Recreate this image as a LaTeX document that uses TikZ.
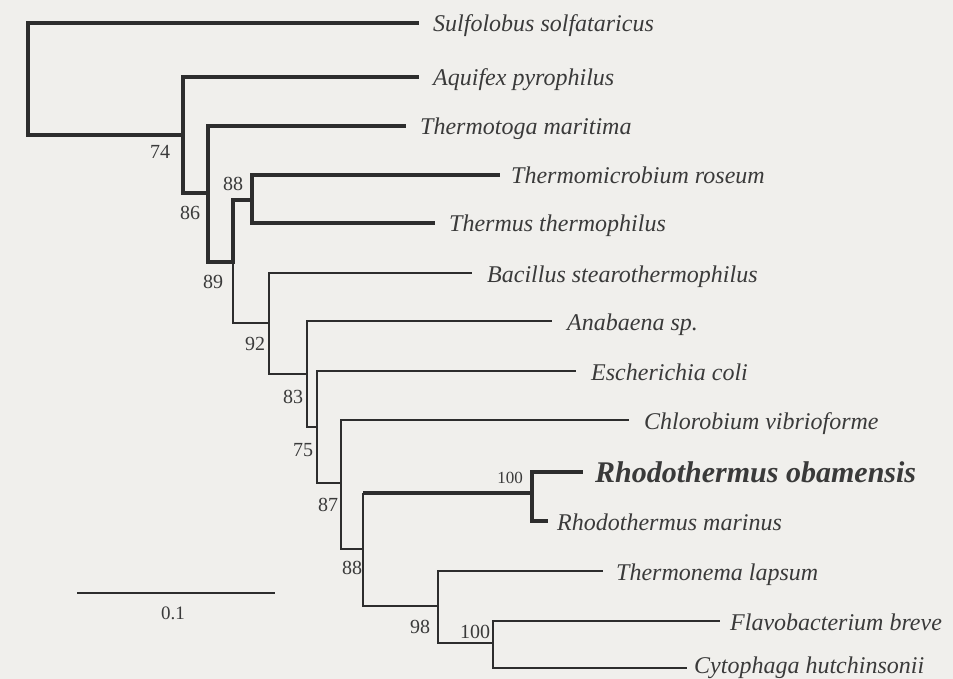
\documentclass[tikz,border=0pt]{standalone}
\usepackage{fontspec}
\setmainfont{Liberation Serif}
\definecolor{paper}{RGB}{240,239,236}
\definecolor{ink}{RGB}{45,45,45}
\definecolor{txt}{RGB}{58,58,58}
\begin{document}
\begin{tikzpicture}[x=1pt,y=-1pt,
  thk/.style={draw=ink,line width=3.8pt},
  thn/.style={draw=ink,line width=1.6pt},
  taxon/.style={anchor=west,inner ysep=0pt,text=txt,font=\fontsize{24}{28}\selectfont\itshape,text height=24pt,text depth=6pt},
  boot/.style={inner sep=0pt,text=txt,font=\fontsize{20}{24}\selectfont}]
\fill[paper] (0,0) rectangle (953,679);
\useasboundingbox (0,0) rectangle (953,679);

% internal nodes
\coordinate (root) at (28,79);
\coordinate (n74)  at (183,135);
\coordinate (n86)  at (208,193);
\coordinate (n89)  at (233,262);
\coordinate (n88a) at (252,200);
\coordinate (n92)  at (269,323);
\coordinate (n83)  at (307,374);
\coordinate (n75)  at (317,427);
\coordinate (n87)  at (341,483);
\coordinate (n88b) at (363,549);
\coordinate (nrh)  at (532,493);
\coordinate (n98)  at (438,606);
\coordinate (n100) at (493,643);

% taxa
\node[taxon,inner xsep=14pt] (sulf)  at (419,23)  {Sulfolobus solfataricus};
\node[taxon,inner xsep=14pt] (aqui)  at (419,77)  {Aquifex pyrophilus};
\node[taxon,inner xsep=14pt] (tmar)  at (406,126) {Thermotoga maritima};
\node[taxon,inner xsep=11pt] (trose) at (500,175) {Thermomicrobium roseum};
\node[taxon,inner xsep=14pt] (tthe)  at (435,223) {Thermus thermophilus};
\node[taxon,inner xsep=15pt] (bac)   at (472,273) {Bacillus stearothermophilus};
\node[taxon,inner xsep=15pt] (ana)   at (552,321) {Anabaena sp.};
\node[taxon,inner xsep=15pt] (eco)   at (576,371) {Escherichia coli};
\node[taxon,inner xsep=15pt] (chl)   at (629,420) {Chlorobium vibrioforme};
\node[taxon,inner xsep=12pt,font=\fontsize{30}{34}\selectfont\bfseries\itshape,text height=26pt,text depth=6pt] (robam) at (583,472) {Rhodothermus obamensis};
\node[taxon,inner xsep=9pt]  (rmar)  at (548,521) {Rhodothermus marinus};
\node[taxon,inner xsep=13pt] (tlap)  at (603,571) {Thermonema lapsum};
\node[taxon,inner xsep=10pt] (flav)  at (720,621) {Flavobacterium breve};
\node[taxon,inner xsep=7pt,text height=22pt,text depth=12pt] (cyto) at (687,668) {Cytophaga hutchinsonii};

% branches
\draw[thk] (root) |- (sulf.west);
\draw[thk] (root) |- (n74) |- (aqui.west);
\draw[thk] (n74) |- (n86) |- (tmar.west);
\draw[thk] (n86) |- (n89) |- (n88a) |- (trose.west);
\draw[thk] (n88a) |- (tthe.west);
\draw[thn] (n89) |- (n92) |- (bac.west);
\draw[thn] (n92) |- (n83) |- (ana.west);
\draw[thn] (n83) |- (n75) |- (eco.west);
\draw[thn] (n75) |- (n87) |- (chl.west);
\draw[thn] (n87) |- (n88b) |- (n98) |- (tlap.west);
\draw[thn] (n88b) -- (n88b |- nrh);
\draw[thk] (n88b |- nrh) -- (nrh) |- (robam.west);
\draw[thk] (nrh) |- (rmar.west);
\draw[thn] (n98) |- (n100) |- (flav.west);
\draw[thn] (n100) |- (cyto.west);

% bootstrap values
\node[boot] (b74)   at (160,152) {74};
\node[boot] (b86)   at (190,213) {86};
\node[boot] (b88a)  at (233,184) {88};
\node[boot] (b89)   at (213,282) {89};
\node[boot] (b92)   at (255,344) {92};
\node[boot] (b83)   at (293,397) {83};
\node[boot] (b75)   at (303,450) {75};
\node[boot] (b87)   at (328,505) {87};
\node[boot] (b88b)  at (352,568) {88};
\node[boot,font=\fontsize{17}{20}\selectfont] (b100a) at (510,478) {100};
\node[boot] (b98)   at (420,627) {98};
\node[boot] (b100b) at (475,632) {100};

% scale bar
\coordinate (sb1) at (77,593);
\coordinate (sb2) at (275,593);
\draw[thn] (sb1) -- (sb2);
\node[boot,font=\fontsize{19}{22}\selectfont] (sblab) at (173,613) {0.1};
\end{tikzpicture}
\end{document}
